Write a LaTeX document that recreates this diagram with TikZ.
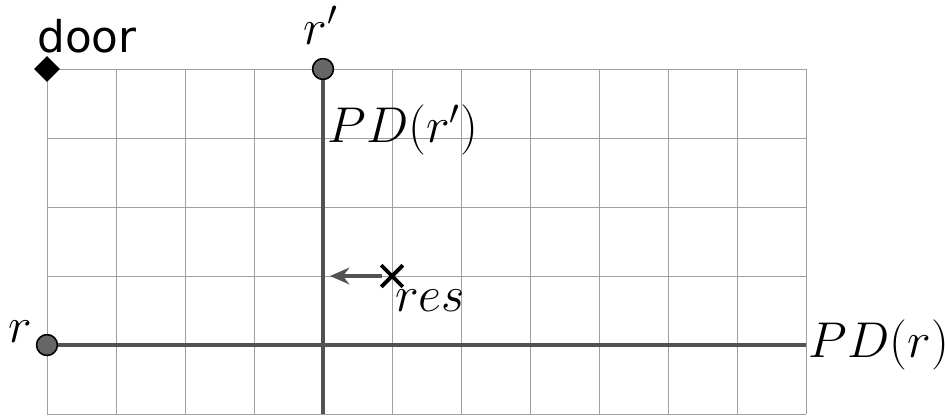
\documentclass[tikz,border=0pt]{standalone}
\usepackage{fontspec}
\newfontfamily\doorfont{DejaVu Sans}
\usetikzlibrary{arrows.meta, positioning, shapes.geometric}

\begin{document}
\begin{tikzpicture}[
    gridline/.style={draw=gray!75, line width=0.4pt},
    pd/.style={draw=black!68, line width=1.8pt},
    dot/.style={circle, draw=black, fill=black!60, line width=0.6pt, minimum size=0.3cm, inner sep=0pt},
    doorbox/.style={diamond, fill=black, minimum size=0.38cm, inner sep=0pt},
    lbl/.style={font=\fontsize{20}{24}\selectfont, inner sep=1pt},
    arr/.style={-{Stealth[length=2.8mm, width=2.4mm]}, draw=black!68, line width=1.4pt}
]
    \useasboundingbox (-0.681,-0.0145) rectangle (13.014,6.0);

    % Grid
    \draw[gridline] (0,0) grid (11,5);

    % Line ends
    \coordinate (rend) at (11,1);
    \coordinate (rpend) at (4,0);
    \coordinate (foot) at (4.1,2);

    % Points
    \node[doorbox] (door) at (0,5) {};
    \node[dot] (r) at (0,1) {};
    \node[dot] (rp) at (4,5) {};

    % Lines PD
    \draw[pd] (r.center) -- (rend);
    \draw[pd] (rp.center) -- (rpend);
    \node[dot] at (r) {};
    \node[dot] at (rp) {};

    % Result
    \node[inner sep=0pt, minimum size=0.3cm] (res) at (5,2) {};
    \draw[line width=1.6pt] (res.north west) -- (res.south east);
    \draw[line width=1.6pt] (res.south west) -- (res.north east);
    \draw[arr] (res.center) ++(-0.15,0) -- (foot);

    % Labels
    \node[anchor=base west, inner sep=0pt, font=\doorfont\fontsize{18}{22}\selectfont] (doorlbl) at (-0.145,5.246) {door};
    \node[lbl, anchor=base] (rlbl) at (-0.38,1.04) {$r$};
    \node[lbl, anchor=base] (rplbl) at (3.97,5.36) {$r'$};
    \node[lbl, anchor=base west, inner sep=0pt] (pdrp) at (4.06,3.93) {$PD(r')$};
    \node[lbl, anchor=base west, inner sep=0pt] (reslbl) at (5.04,1.48) {$res$};
    \node[lbl, anchor=west] (pdr) at (rend) {$PD(r)$};

\end{tikzpicture}
\end{document}
